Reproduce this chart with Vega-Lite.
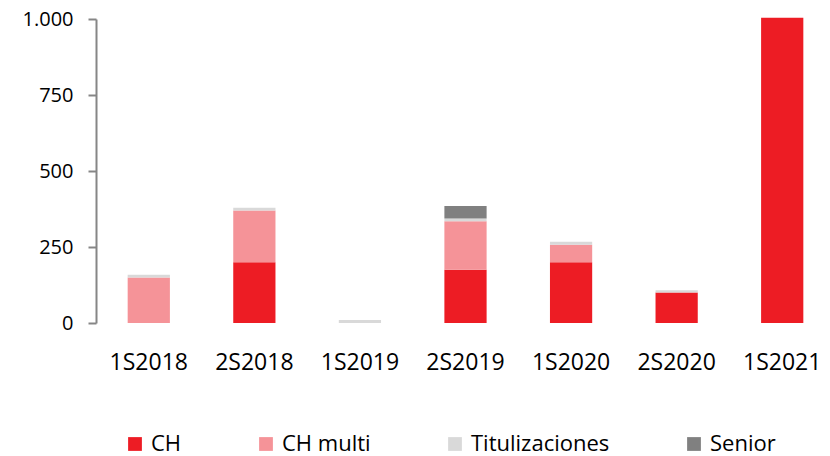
{
  "$schema": "https://vega.github.io/schema/vega-lite/v6.json",
  "width": 739,
  "height": 304,
  "autosize": {"type": "none"},
  "padding": {"left": 96, "top": 19, "right": 0, "bottom": 133},
  "background": "white",
  "config": {
    "view": {"stroke": null},
    "font": "Open Sans"
  },
  "data": {
    "values": [
      {"periodo": "1S2018", "serie": "CH multi", "orden": 2, "valor": 150},
      {"periodo": "1S2018", "serie": "Titulizaciones", "orden": 3, "valor": 9},
      {"periodo": "2S2018", "serie": "CH", "orden": 1, "valor": 200},
      {"periodo": "2S2018", "serie": "CH multi", "orden": 2, "valor": 170},
      {"periodo": "2S2018", "serie": "Titulizaciones", "orden": 3, "valor": 9},
      {"periodo": "1S2019", "serie": "Titulizaciones", "orden": 3, "valor": 10},
      {"periodo": "2S2019", "serie": "CH", "orden": 1, "valor": 175},
      {"periodo": "2S2019", "serie": "CH multi", "orden": 2, "valor": 160},
      {"periodo": "2S2019", "serie": "Titulizaciones", "orden": 3, "valor": 9},
      {"periodo": "2S2019", "serie": "Senior", "orden": 4, "valor": 41},
      {"periodo": "1S2020", "serie": "CH", "orden": 1, "valor": 200},
      {"periodo": "1S2020", "serie": "CH multi", "orden": 2, "valor": 57},
      {"periodo": "1S2020", "serie": "Titulizaciones", "orden": 3, "valor": 10},
      {"periodo": "2S2020", "serie": "CH", "orden": 1, "valor": 100},
      {"periodo": "2S2020", "serie": "Titulizaciones", "orden": 3, "valor": 8},
      {"periodo": "1S2021", "serie": "CH", "orden": 1, "valor": 1004}
    ]
  },
  "mark": {"type": "bar"},
  "encoding": {
    "x": {
      "field": "periodo",
      "type": "nominal",
      "sort": ["1S2018", "2S2018", "1S2019", "2S2019", "1S2020", "2S2020", "1S2021"],
      "scale": {"paddingInner": 0.6, "paddingOuter": 0.3},
      "axis": {
        "title": null,
        "domain": false,
        "ticks": false,
        "tickSize": 0,
        "labelAngle": 0,
        "labelFontSize": 23,
        "labelColor": "#000000",
        "labelPadding": 28,
        "labelFont": "Open Sans"
      }
    },
    "y": {
      "field": "valor",
      "type": "quantitative",
      "stack": "zero",
      "scale": {"domain": [0, 1000], "nice": false},
      "axis": {
        "title": null,
        "grid": false,
        "values": [0, 250, 500, 750, 1000],
        "labelExpr": "replace(format(datum.value, ','), ',', '.')",
        "domainColor": "#868686",
        "domainWidth": 2,
        "tickColor": "#868686",
        "tickWidth": 2,
        "tickSize": 8,
        "labelFontSize": 20,
        "labelColor": "#000000",
        "labelPadding": 15,
        "labelFont": "Open Sans"
      }
    },
    "color": {
      "field": "serie",
      "type": "nominal",
      "scale": {
        "domain": ["CH", "CH multi", "Titulizaciones", "Senior"],
        "range": ["#ED1C24", "#F59398", "#D9D9D9", "#808080"]
      },
      "legend": {
        "title": null,
        "orient": "none",
        "direction": "horizontal",
        "legendX": 28,
        "legendY": 414,
        "symbolType": "square",
        "symbolSize": 190,
        "symbolStrokeWidth": 0,
        "labelFontSize": 22,
        "labelColor": "#000000",
        "labelFont": "Open Sans",
        "labelOffset": 5,
        "columnPadding": 73
      }
    },
    "order": {"field": "orden", "type": "quantitative", "sort": "ascending"}
  }
}
